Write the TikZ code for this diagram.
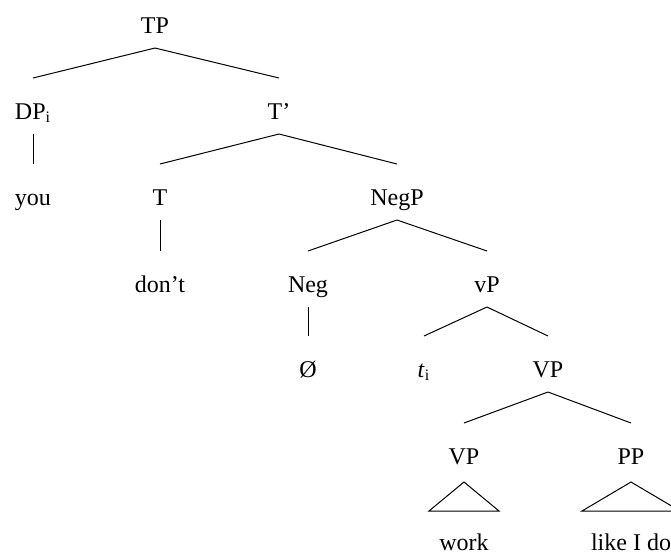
\documentclass[tikz,border=0pt]{standalone}
\usepackage{fontspec}
\setmainfont{Liberation Serif}
\usetikzlibrary{calc}
\usetikzlibrary{positioning}

\tikzset{
  cat/.style={anchor=base, inner sep=0pt, font=\fontsize{12}{14}\selectfont},
  edge/.style={line width=0.5pt},
}
\newcommand{\branch}[2]{\draw[edge] ($(#1.base)+(0,15)$) -- ($(#2.base)+(0,-41)$);}
\newcommand{\roof}[3]{\draw[edge] ($(#1.base)+(0,18)$) -- ($(#2.base)+(-#3,-39)$) -- ($(#2.base)+(#3,-39)$) -- cycle;}

\begin{document}
\begin{tikzpicture}[x=0.5pt, y=-0.5pt]
\useasboundingbox (0,0) rectangle (671,554);

% level 1
\node[cat] (tp) at (155,33) {TP};
% level 2
\node[cat] (dp) at (33,119) {DP\textsubscript{i}};
\node[cat] (tbar) at (279,119) {T’};
% level 3
\node[cat] (you) at (33,205) {you};
\node[cat] (t) at (160,205) {T};
\node[cat] (negp) at (397,205) {NegP};
% level 4
\node[cat] (dont) at (160,292) {don’t};
\node[cat] (neg) at (308,292) {Neg};
\node[cat] (vp) at (487,292) {vP};
% level 5
\node[cat] (null) at (308,377) {Ø};
\node[cat] (trace) at (424,377) {\textit{t}\textsubscript{i}};
\node[cat] (vpa) at (548,377) {VP};
% level 6
\node[cat] (vpb) at (464,464) {VP};
\node[cat] (pp) at (631,464) {PP};
% level 7
\node[cat] (work) at (464,550) {work};
\node[cat] (like) at (631,550) {like I do};

\branch{tp}{dp}
\branch{tp}{tbar}
\branch{dp}{you}
\branch{tbar}{t}
\branch{tbar}{negp}
\branch{t}{dont}
\branch{negp}{neg}
\branch{negp}{vp}
\branch{neg}{null}
\branch{vp}{trace}
\branch{vp}{vpa}
\branch{vpa}{vpb}
\branch{vpa}{pp}
\roof{vpb}{work}{35}
\roof{pp}{like}{49}

\end{tikzpicture}
\end{document}
